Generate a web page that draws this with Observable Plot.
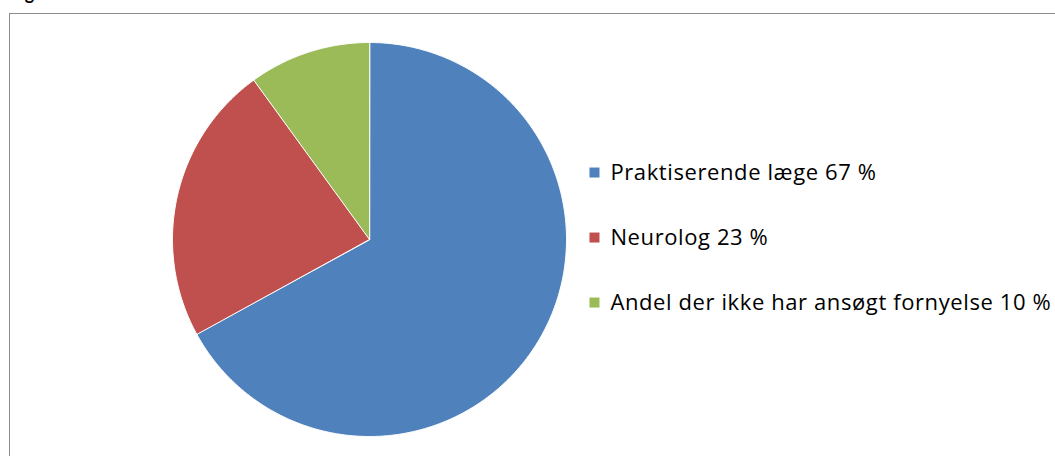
<!DOCTYPE html>
<html>
<head>
<meta charset="utf-8">
<script src="https://cdn.jsdelivr.net/npm/d3@7"></script>
<script src="https://cdn.jsdelivr.net/npm/@observablehq/plot@0.6"></script>
<style>
  html, body { margin: 0; padding: 0; background: #fff; overflow: hidden; }
  #wrap { position: relative; width: 1055px; height: 456px; overflow: hidden; background: #fff; }
  #frame { position: absolute; left: 9px; top: 13px; width: 1080px; height: 480px; border: 1px solid #8c8c8c; box-sizing: border-box; pointer-events: none; }
  #title { position: absolute; left: 10px; top: -16px; font: bold 18px Lato, "Open Sans", sans-serif; line-height: 18px; color: #000; white-space: nowrap; }
  #chart { position: absolute; left: 0; top: 0; }
  #chart .legend-label text, #chart text.legend-label { letter-spacing: 0.6px; }
</style>
</head>
<body>
<div id="wrap">
  <div id="title">Figur</div>
  <div id="chart"></div>
  <div id="frame"></div>
</div>
<script>
// ---- data ----
const categories = ["Praktiserende læge", "Neurolog", "Andel der ikke har ansøgt fornyelse"];
const values = [67, 23, 10];
const colors = ["#4F81BD", "#C0504D", "#9BBB59"];

// ---- build slice polygons from the data (unit circle, clockwise from 12 o'clock) ----
const arcs = d3.pie().sort(null).value(d => d)(values);
function slicePolygon(a0, a1) {
  const pts = [[0, 0]];
  const n = Math.max(2, Math.ceil((a1 - a0) / 0.01));
  for (let i = 0; i <= n; i++) {
    const a = a0 + (a1 - a0) * i / n;
    pts.push([Math.sin(a), Math.cos(a)]);
  }
  pts.push([0, 0]);
  return pts;
}
const slices = {
  type: "FeatureCollection",
  features: arcs.map((a, i) => ({
    type: "Feature",
    properties: {name: categories[i], value: values[i]},
    geometry: {type: "Polygon", coordinates: [slicePolygon(a.startAngle, a.endAngle)]}
  }))
};
const unitCircle = {type: "Polygon", coordinates: [slicePolygon(0, 2 * Math.PI).slice(1)]};

// legend rows (layout derived from index)
const legendRows = categories.map((c, i) => ({name: c, label: `${c} ${values[i]} %`, i}));
const legX = 1.142, legTextX = 1.223, legY0 = 0.34, legStep = 0.33;

const plot = Plot.plot({
  width: 1055,
  height: 456,
  marginLeft: 172,
  marginRight: 489,
  marginTop: 42,
  marginBottom: 20,
  style: {background: "transparent", fontFamily: "'Open Sans', Lato, sans-serif"},
  projection: {type: "reflect-y", domain: unitCircle, clip: false},
  color: {domain: categories, range: colors},
  marks: [
    Plot.geo(slices, {fill: d => d.properties.name, stroke: "white", strokeWidth: 1}),
    Plot.dot(legendRows, {
      x: () => legX,
      y: d => legY0 - d.i * legStep,
      symbol: "square",
      r: 5.64,
      fill: "name"
    }),
    Plot.text(legendRows, {
      x: () => legTextX,
      y: d => legY0 - d.i * legStep,
      text: "label",
      textAnchor: "start",
      fontSize: 22,
      fill: "#000",
      className: "legend-label"
    })
  ]
});
document.getElementById("chart").appendChild(plot);
</script>
</body>
</html>
